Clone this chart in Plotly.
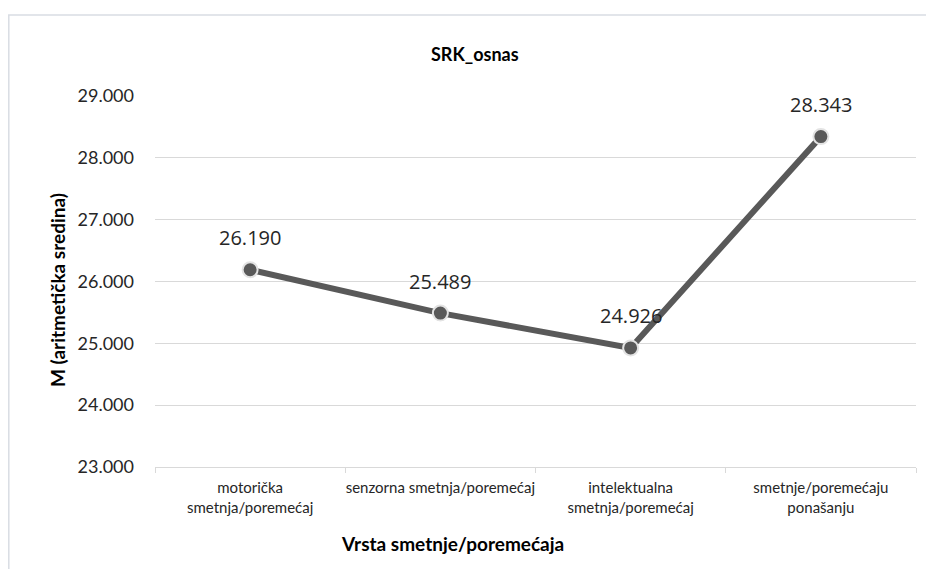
import plotly.graph_objects as go

# Data
categories = [
    "motorička<br>smetnja/poremećaj",
    "senzorna smetnja/poremećaj",
    "intelektualna<br>smetnja/poremećaj",
    "smetnje/poremećaju<br>ponašanju",
]
means = [26.190, 25.489, 24.926, 28.343]
label_texts = ["26.190", "25.489", "24.926", "28.343"]
y_ticks = [23, 24, 25, 26, 27, 28, 29]
y_tick_labels = ["23.000", "24.000", "25.000", "26.000", "27.000", "28.000", "29.000"]

# page body has an 8px margin, so the figure is drawn 8px smaller/shifted
OFF = 8
W, H = 934 - OFF, 577 - 2 * OFF
L, R, T = 155 - OFF, W - (916 - OFF), 96 - OFF
B = H - (467 - OFF)

fig = go.Figure()

fig.add_trace(go.Scatter(
    x=categories,
    y=means,
    mode="lines+markers",
    line=dict(color="#595959", width=6),
    marker=dict(size=15, color="#595959", line=dict(color="#e3e3e3", width=2)),
    cliponaxis=False,
    hoverinfo="skip",
))

# data labels above points
for cat, val, txt in zip(categories, means, label_texts):
    fig.add_annotation(
        x=cat, y=val, text=txt, showarrow=False, yshift=32,
        xanchor="center", yanchor="middle",
        font=dict(family="Open Sans", size=20, color="#262626"),
    )

pw = W - L - R
ph = H - T - B

def px_x(p):
    return (p - OFF - L) / pw

def px_y(p):
    return (H - B - (p - OFF)) / ph

# outer chart frame (partially off-screen)
fig.add_shape(
    type="rect", xref="paper", yref="paper",
    x0=px_x(8.8), x1=px_x(990), y0=px_y(640), y1=px_y(15),
    line=dict(color="#d9dde3", width=1.5), layer="below",
)

fig.add_annotation(
    text="<b>SRK_osnas</b>", xref="paper", yref="paper",
    x=px_x(475), y=px_y(54), showarrow=False,
    xanchor="center", yanchor="middle",
    font=dict(family="Lato", size=18, color="#000000"),
)
fig.add_annotation(
    text="<b>M (aritmetička sredina)</b>", xref="paper", yref="paper",
    x=px_x(57), y=px_y(290), showarrow=False, textangle=-90,
    xanchor="center", yanchor="middle",
    font=dict(family="Lato", size=19, color="#000000"),
)
fig.add_annotation(
    text="<b>Vrsta smetnje/poremećaja</b>", xref="paper", yref="paper",
    x=px_x(452), y=px_y(543), showarrow=False,
    xanchor="center", yanchor="middle",
    font=dict(family="Lato", size=19, color="#000000"),
)

fig.update_layout(
    width=W, height=H,
    margin=dict(l=L, r=R, t=T, b=B),
    paper_bgcolor="white",
    plot_bgcolor="white",
    showlegend=False,
    xaxis=dict(
        type="category",
        range=[-0.5, len(categories) - 0.5],
        tickson="boundaries",
        tickangle=0,
        automargin=False,
        ticks="outside", ticklen=5, tickcolor="#d9d9d9",
        showline=True, linecolor="#d9d9d9", linewidth=1,
        showgrid=False,
        ticklabelstandoff=7,
        tickfont=dict(family="Lato", size=15, color="#262626"),
    ),
    yaxis=dict(
        range=[23, 29],
        tickvals=y_ticks,
        ticktext=y_tick_labels,
        automargin=False,
        showgrid=True, gridcolor="#d9d9d9", gridwidth=1,
        zeroline=False,
        showline=False,
        ticks="",
        ticklabelstandoff=20,
        tickfont=dict(family="Lato", size=18, color="#262626"),
    ),
)

fig.write_html("out.html")
